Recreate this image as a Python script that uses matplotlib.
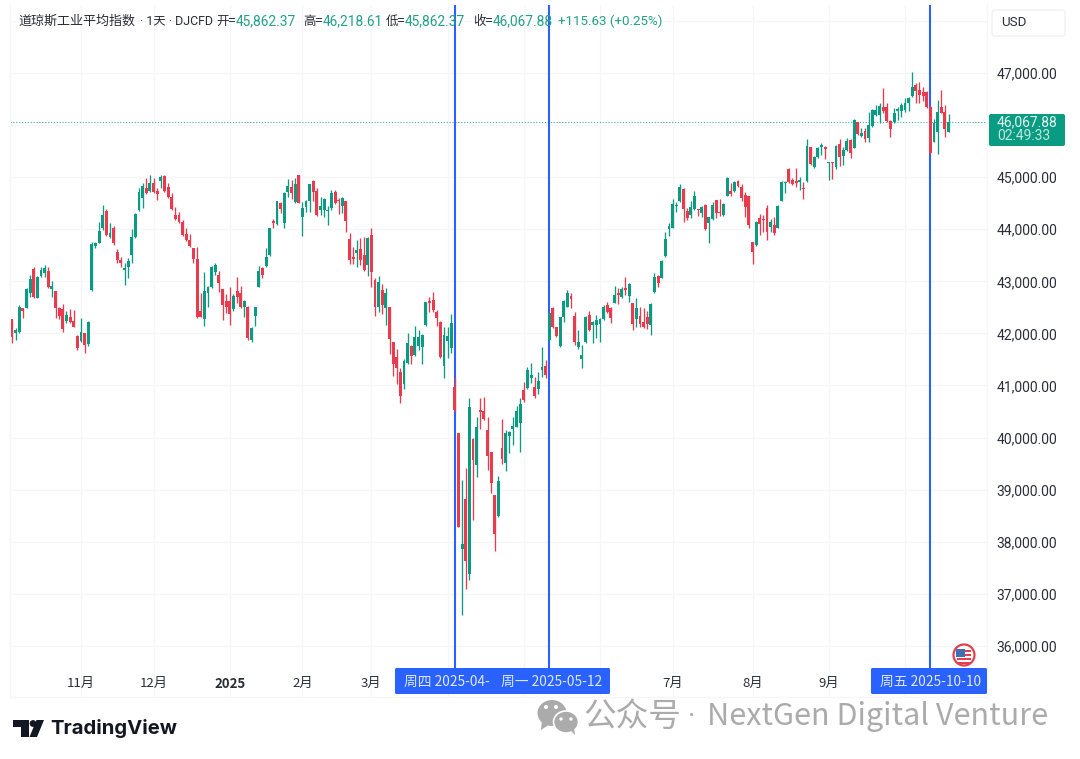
import numpy as np
import matplotlib
matplotlib.use("Agg")
import matplotlib.pyplot as plt
from matplotlib.patches import Circle, Ellipse, FancyBboxPatch, Polygon, Rectangle
from matplotlib.transforms import Affine2D

plt.rcParams['font.family'] = ['Noto Sans CJK SC', 'DejaVu Sans']

# daily candles
opens = [
    42271, 42002, 42034, 42482, 42495, 42770, 43237, 42687, 43103, 43154,
    43199, 42847, 42821, 42495, 42463, 42239, 42309, 42239, 41957, 41861,
    42002, 41797, 42834, 43679, 43743, 44031, 44357, 43845, 44031, 43570,
    43410, 43218, 43282, 43506, 43845, 44370, 44594, 44799, 44741, 44895,
    44741, 44933, 45023, 44805, 44613, 44274, 44274, 44146, 43903, 43794,
    43634, 43429, 42437, 42284, 42770, 42898, 43186, 43122, 42847, 42623,
    42629, 42463, 42821, 42783, 42514, 42514, 41874, 42335, 42898, 43263,
    43295, 43506, 44165, 44095, 44511, 44127, 44722, 44805, 44530, 45042,
    44242, 44434, 44543, 44933, 44741, 44370, 44370, 44351, 44402, 44722,
    44562, 44453, 44543, 43807, 43461, 43538, 43615, 43506, 43314, 43884,
    43026, 42501, 42834, 42482, 42501, 41829, 41554, 41266, 41029, 41426,
    41759, 41586, 41759, 41746, 42162, 42629, 42642, 42418, 42226, 41375,
    41861, 41714, 40978, 40082, 37868, 38815, 37381, 39973, 39474, 40530,
    40511, 40146, 39730, 38892, 38495, 39794, 39519, 40031, 40165, 40210,
    40274, 40914, 40946, 41151, 40978, 40933, 41298, 41381, 41874, 42495,
    42130, 41759, 42322, 42514, 42719, 42341, 41733, 41503, 41829, 42354,
    42162, 42162, 42175, 42277, 42546, 42482, 42591, 42783, 42706, 42866,
    42719, 42578, 42277, 42341, 42213, 42309, 42162, 42789, 43103, 43071,
    43487, 44005, 44031, 44440, 44543, 44780, 44351, 44274, 44389, 44383,
    44319, 44466, 44127, 44191, 44556, 44338, 44274, 44645, 44741, 44735,
    44927, 44818, 44658, 44639, 43762, 43698, 44210, 44197, 44415, 44044,
    44082, 44031, 44549, 44882, 45151, 44946, 44933, 44914, 44786, 44927,
    45573, 45189, 45381, 45573, 45586, 45266, 45285, 45189, 45637, 45413,
    45522, 45714, 45567, 46053, 45791, 45893, 45759, 45989, 46194, 46194,
    46341, 46354, 46085, 46053, 46277, 46271, 46290, 46418, 46565, 46770,
    46674, 46642, 46642, 46354, 45682, 45874, 46354, 46258, 45862.37,
]
highs = [
    42271, 42098, 42546, 42495, 42866, 43122, 43269, 43103, 43269, 43308,
    43282, 43013, 42821, 42514, 42559, 42437, 42463, 42450, 41970, 42303,
    42015, 42239, 43762, 43762, 44133, 44466, 44383, 44114, 44063, 43615,
    43474, 43346, 43442, 43999, 44306, 44786, 44882, 44978, 45042, 44978,
    44786, 45042, 45042, 44895, 44690, 44434, 44338, 44178, 44018, 43909,
    43634, 43653, 42770, 43186, 42917, 43295, 43346, 43205, 42847, 42757,
    42885, 42757, 43090, 42911, 42642, 42527, 42130, 42514, 43295, 43282,
    43634, 44018, 44191, 44543, 44530, 44722, 44965, 44946, 44978, 45042,
    44530, 44562, 44869, 44946, 44786, 44613, 44607, 44447, 44754, 44754,
    44594, 44626, 44549, 43935, 43666, 43794, 43839, 43858, 43845, 44018,
    43058, 43103, 42949, 42866, 42514, 41842, 41695, 41330, 41503, 42002,
    41778, 42149, 42066, 41989, 42610, 42706, 42802, 42450, 42239, 42130,
    42117, 42373, 41170, 40082, 39186, 39410, 40754, 39986, 40389, 40754,
    40773, 40402, 39730, 38892, 39263, 40357, 40146, 40127, 40402, 40607,
    40754, 41074, 41362, 41426, 41157, 41266, 41746, 41490, 42418, 42501,
    42130, 42322, 42642, 42834, 42783, 42418, 42066, 41778, 42335, 42437,
    42239, 42354, 42290, 42546, 42610, 42514, 42911, 42866, 42898, 43090,
    42962, 42578, 42687, 42514, 42482, 42437, 42578, 43154, 43122, 43410,
    43954, 44114, 44581, 44530, 44863, 44786, 44402, 44543, 44741, 44383,
    44447, 44485, 44242, 44517, 44562, 44581, 44511, 44997, 44882, 44933,
    44946, 44863, 44722, 44645, 43762, 44159, 44287, 44274, 44466, 44191,
    44242, 44466, 44927, 44927, 45183, 44978, 45183, 45010, 44914, 45733,
    45586, 45407, 45586, 45650, 45605, 45285, 45285, 45618, 45733, 45586,
    45746, 45727, 46111, 46066, 45938, 45938, 46258, 46303, 46386, 46431,
    46706, 46431, 46098, 46322, 46354, 46418, 46514, 46533, 47026, 46815,
    46834, 46738, 46661, 46386, 46111, 46482, 46674, 46386, 46218.61,
]
lows = [
    41823, 41874, 42002, 42290, 42482, 42706, 42674, 42674, 43090, 43090,
    42866, 42706, 42290, 42271, 42034, 42207, 42194, 42117, 41682, 41842,
    41631, 41759, 42821, 43634, 43730, 43986, 43871, 43826, 43698, 43346,
    43282, 42930, 43058, 43346, 43839, 44357, 44402, 44677, 44722, 44690,
    44562, 44786, 44722, 44594, 44370, 44178, 44114, 43871, 43781, 43666,
    43346, 42296, 42309, 42149, 42514, 42866, 43122, 42802, 42258, 42386,
    42162, 42437, 42578, 42482, 42309, 41874, 41842, 42149, 42885, 43058,
    43282, 43493, 44018, 44082, 44319, 44018, 44613, 44575, 44511, 44498,
    43871, 44338, 44338, 44549, 44255, 44274, 44242, 44082, 44370, 44485,
    44293, 44306, 43941, 43333, 43333, 43269, 43314, 43205, 43103, 42898,
    42341, 42418, 42373, 42162, 41605, 41183, 41029, 40658, 40927, 41413,
    41413, 41573, 41682, 41413, 42149, 42418, 42418, 42149, 41522, 41138,
    41522, 41631, 40498, 38277, 36594, 37087, 37266, 38418, 39250, 40159,
    40338, 39378, 38943, 37829, 38482, 39487, 39365, 39711, 39858, 40197,
    39730, 40690, 40933, 41042, 40754, 40837, 41170, 41138, 41861, 42098,
    41938, 41746, 42226, 42501, 42482, 41778, 41708, 41343, 41823, 42047,
    41823, 41906, 41829, 42258, 42386, 42207, 42578, 42565, 42674, 42738,
    42597, 42066, 42130, 42117, 42098, 42079, 41970, 42783, 42885, 43058,
    43474, 43877, 44018, 44338, 44530, 44146, 44178, 44210, 44370, 44255,
    44229, 43986, 43730, 44178, 44223, 44255, 44255, 44639, 44645, 44722,
    44805, 44549, 44242, 44018, 43333, 43685, 43890, 43954, 43794, 43954,
    43890, 44018, 44543, 44690, 44895, 44850, 44818, 44754, 44575, 44914,
    45234, 45170, 45362, 45426, 45343, 44946, 44959, 45157, 45215, 45234,
    45509, 45375, 45554, 45810, 45765, 45669, 45682, 45970, 46175, 46034,
    46239, 46066, 45765, 46047, 46098, 46162, 46258, 46277, 46546, 46418,
    46431, 46469, 46322, 45445, 45669, 45439, 46226, 45765, 45862.37,
]
closes = [
    41938, 42066, 42514, 42437, 42853, 43052, 42693, 43077, 43218, 43250,
    42898, 42911, 42495, 42341, 42079, 42354, 42213, 42130, 41714, 42034,
    41772, 42213, 43711, 43730, 43973, 44274, 43884, 43935, 43730, 43410,
    43359, 43263, 43391, 43845, 44287, 44709, 44831, 44690, 44882, 44722,
    44677, 44997, 44741, 44613, 44383, 44197, 44133, 43890, 43794, 43679,
    43423, 42309, 42322, 42821, 42885, 43269, 43314, 42975, 42546, 42514,
    42373, 42719, 42693, 42514, 42629, 41906, 42111, 42501, 43205, 43122,
    43461, 44018, 44127, 44543, 44389, 44703, 44831, 44690, 44869, 44511,
    44402, 44543, 44863, 44722, 44274, 44447, 44575, 44370, 44690, 44511,
    44543, 44607, 44159, 43410, 43429, 43602, 43410, 43218, 43826, 43173,
    42501, 42981, 42546, 42783, 41887, 41413, 41330, 40799, 41477, 41823,
    41567, 41938, 41938, 41970, 42610, 42578, 42450, 42290, 41541, 41970,
    41951, 42207, 40530, 38290, 37957, 37631, 40594, 39570, 40197, 40498,
    40351, 39653, 39122, 38149, 39173, 39583, 40095, 40101, 40223, 40511,
    40645, 40722, 41298, 41202, 40799, 41087, 41349, 41202, 42399, 42117,
    41951, 42309, 42629, 42770, 42655, 41842, 41842, 41580, 42322, 42066,
    42226, 42258, 42277, 42514, 42418, 42290, 42738, 42738, 42847, 42834,
    42949, 42181, 42495, 42181, 42130, 42175, 42565, 43077, 42962, 43391,
    43813, 44069, 44485, 44466, 44818, 44383, 44210, 44434, 44639, 44364,
    44434, 44009, 44229, 44466, 44306, 44306, 44492, 44991, 44671, 44914,
    44831, 44594, 44434, 44082, 43557, 44146, 44095, 44178, 43954, 44146,
    43922, 44447, 44914, 44908, 44914, 44869, 44882, 44927, 44767, 45605,
    45253, 45394, 45554, 45618, 45535, 45285, 45266, 45599, 45394, 45522,
    45695, 45471, 46098, 45823, 45855, 45727, 46002, 46290, 46290, 46367,
    46271, 46085, 45925, 46226, 46290, 46386, 46418, 46514, 46725, 46661,
    46578, 46559, 46341, 45458, 46047, 46258, 46239, 45925, 46067.88,
]

# bar numbers of the month starts, blank where a date label covers them
month_bars = [19, 39, 60, 80, 99, 120, 141, 162, 182, 204, 225, 246]
month_labels = ['11月', '12月', '2025', '2月', '3月', '', '', '', '7月', '8月', '9月', '']
price_ticks = list(range(36000, 49000, 1000))
marked_bars = [122, 148, 253]
last_price = 46067.88

UP = '#0c9a82'
DOWN = '#ea3a4d'
BLUE = '#2962ff'
GRID = '#f5f6f8'
INK = '#2a2e39'
W, H = 1080, 759

fig = plt.figure(figsize=(W / 100, H / 100), dpi=100, facecolor='white')
ax = fig.add_axes([10 / W, 1 - 697 / H, 977 / W, 692 / H])

# everything outside the plot is placed in image pixels
px = Affine2D().scale(1, -1).translate(0, H)

o = np.array(opens)
h = np.array(highs)
l = np.array(lows)
c = np.array(closes)
x = np.arange(len(o))
colors = np.where(c >= o, UP, DOWN)

ax.vlines(x, l, h, colors=colors, linewidth=0.95, zorder=4)
ax.bar(x, np.maximum(np.abs(c - o), 25), bottom=np.minimum(o, c), width=0.8,
       color=colors, linewidth=0, zorder=4)

ax.axhline(last_price, color='#45b09e', linewidth=0.8, linestyle=(0, (1, 1.6)), zorder=2)
for bar in marked_bars:
    ax.axvline(bar, ymin=30 / 692, color=BLUE, linewidth=1.5, zorder=3)

ax.set_xlim(-0.55, 268.6)
ax.set_ylim(35019, 48305)

ax.set_xticks(month_bars)
ax.set_xticklabels(month_labels, fontsize=9.5, color=INK)
for tick in ax.get_xticklabels():
    if tick.get_text() == '2025':
        tick.set_fontweight('bold')
ax.tick_params(axis='x', length=0, pad=-14.5)

ax.yaxis.tick_right()
ax.set_yticks(price_ticks)
ax.set_yticklabels(['' if v in (46000, 48000) else f'{v:,.2f}' for v in price_ticks],
                   fontsize=10, color=INK, family='Roboto')
ax.tick_params(axis='y', length=0, pad=7)

ax.grid(True, color=GRID, linewidth=0.9)
ax.set_axisbelow(True)
for name in ['top']:
    ax.spines[name].set_visible(False)
for name in ['left', 'right', 'bottom']:
    ax.spines[name].set_color(GRID)
    ax.spines[name].set_linewidth(0.9)


def pixel_text(x_pos, y_pos, s, **kwargs):
    kwargs.setdefault('va', 'center')
    fig.text(x_pos, y_pos, s, transform=px, **kwargs)


# header row
pixel_text(18, 21, '道琼斯工业平均指数', fontsize=9.4, color=INK)
pixel_text(140, 21, '· 1天 · DJCFD', fontsize=8.9, color=INK,
           family=['Roboto', 'Noto Sans CJK SC'])
header_labels = [(216, '开='), (303, '高='), (386, '低='), (473, '收=')]
header_values = [(236, '45,862.37'), (323, '46,218.61'), (405, '45,862.37'),
                 (493, '46,067.88')]
for xp, s in header_labels:
    pixel_text(xp, 21, s, fontsize=9, color=INK)
for xp, s in header_values:
    pixel_text(xp, 21, s, fontsize=9.9, color='#22a08a', family='Roboto')
pixel_text(558, 21, '+115.63 (+0.25%)', fontsize=9.6, color='#22a08a', family='Roboto')

# currency box and last price tag
fig.add_artist(FancyBboxPatch((992, 10), 73, 26, boxstyle='round,pad=0,rounding_size=3',
                              facecolor='white', edgecolor='#eef0f3', linewidth=0.9, transform=px))
pixel_text(1001, 22, 'USD', fontsize=9.6, color=INK, family='Roboto')
fig.add_artist(FancyBboxPatch((989, 114), 76, 32, boxstyle='round,pad=0,rounding_size=2',
                              facecolor='#0a9c82', edgecolor='none', transform=px))
pixel_text(997, 122, '46,067.88', fontsize=10, color='#e6f5f2', family='Roboto')
pixel_text(997, 136, '02:49:33', fontsize=10, color='#bfe6de', family='Roboto')

# date tags on the time axis
for x0, x1 in [(395, 610), (871, 987)]:
    fig.add_artist(FancyBboxPatch((x0, 668), x1 - x0, 26, boxstyle='round,pad=0,rounding_size=1.5',
                                  facecolor=BLUE, edgecolor='none', transform=px))
for xp, s in [(404, '周四 2025-04-'), (501, '周一 2025-05-12'), (880, '周五 2025-10-10')]:
    pixel_text(xp, 682, s, fontsize=9.9, color='#dfe7ff')

# US flag marker
fig.add_artist(Circle((964, 655), 10.5, facecolor='white', edgecolor='#e2404f', linewidth=1.6, transform=px))
for yp in [650, 654, 658, 662]:
    fig.add_artist(Rectangle((957, yp), 14, 1.8, facecolor='#e2404f', edgecolor='none', transform=px))
fig.add_artist(Rectangle((956, 649), 9, 8, facecolor='#3f6fb5', edgecolor='none', transform=px))

# TradingView logo
fig.add_artist(Polygon([(13, 720), (29, 720), (29, 737), (21, 737), (21, 727), (13, 727)],
                       facecolor='#131722', edgecolor='none', transform=px))
fig.add_artist(Circle((33, 723.5), 3.4, facecolor='#131722', edgecolor='none', transform=px))
fig.add_artist(Polygon([(36.5, 720), (44, 720), (37, 737), (29.5, 737)],
                       facecolor='#131722', edgecolor='none', transform=px))
pixel_text(50, 728, 'TradingView', fontsize=14.6, color='#131722', family='Inter', fontweight='bold')

# WeChat watermark
GREY = '#ababab'
fig.add_artist(Ellipse((552, 713), 29, 26, facecolor=GREY, edgecolor='none', transform=px))
fig.add_artist(Polygon([(542, 720), (541, 730), (550, 724)], facecolor=GREY, edgecolor='none', transform=px))
fig.add_artist(Ellipse((566, 722), 25, 22, facecolor=GREY, edgecolor='white', linewidth=1.2, transform=px))
fig.add_artist(Polygon([(570, 730), (575, 735), (574, 727)], facecolor=GREY, edgecolor='none', transform=px))
for xp, yp, r in [(546, 707, 2), (556, 707, 2), (561, 719, 1.7), (571, 719, 1.7)]:
    fig.add_artist(Circle((xp, yp), r, facecolor='white', edgecolor='none', transform=px))
pixel_text(583, 717, '公众号', fontsize=23.5, color=GREY)
pixel_text(692, 717, '·', fontsize=20, color=GREY, ha='center', family='Roboto')
pixel_text(707, 717, 'NextGen Digital Venture', fontsize=22, color=GREY)

fig.savefig('out.png', dpi=100)
